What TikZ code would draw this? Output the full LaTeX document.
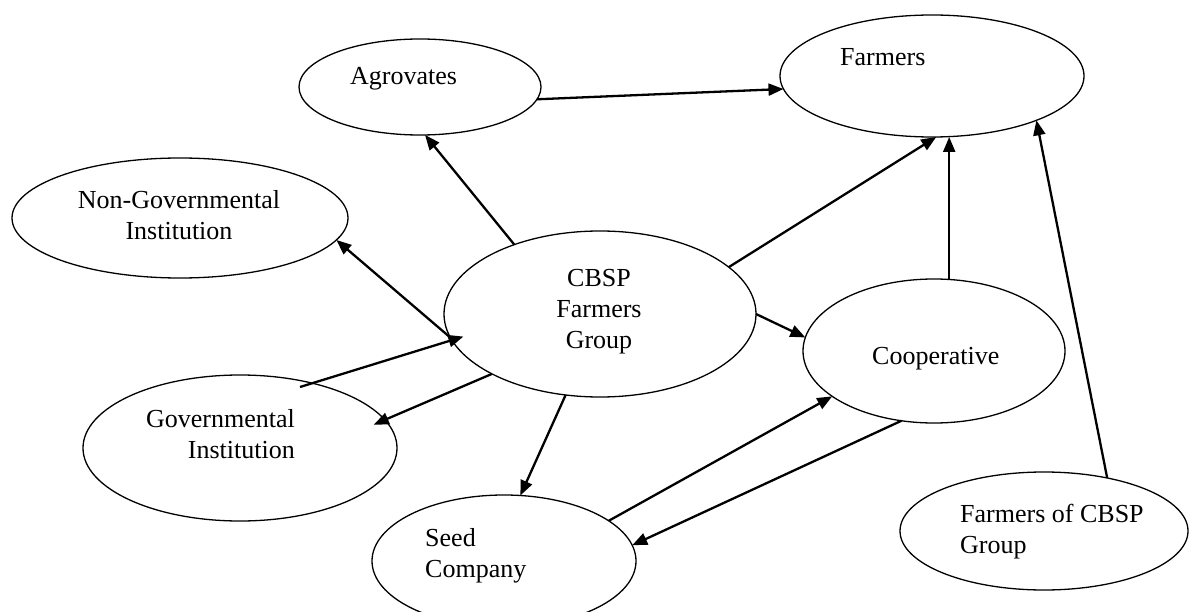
\documentclass[tikz,border=0pt]{standalone}
\usepackage{fontspec}
\setmainfont{Liberation Serif}
\usetikzlibrary{shapes.geometric,arrows.meta}
\begin{document}
\begin{tikzpicture}[x=1pt,y=-1pt,
  ell/.style={draw, ellipse, line width=1.3pt, inner sep=0pt, outer sep=0pt},
  lbl/.style={inner sep=0pt, font=\fontsize{26}{31}\selectfont},
  conn/.style={line width=2.3pt, -{Triangle[length=15pt,width=12pt]}}]
\useasboundingbox (0,0) rectangle (1204,612);
% ellipses
\node[ell, minimum width=242pt, minimum height=96pt]  (agro) at (420,87) {};
\node[ell, minimum width=304pt, minimum height=122pt] (farm) at (932,76) {};
\node[ell, minimum width=336pt, minimum height=120pt] (ngo)  at (180,218) {};
\node[ell, minimum width=312pt, minimum height=166pt] (cbsp) at (600,314) {};
\node[ell, minimum width=262pt, minimum height=144pt] (coop) at (934,351) {};
\node[ell, minimum width=314pt, minimum height=146pt] (gov)  at (240,448) {};
\node[ell, minimum width=264pt, minimum height=132pt] (seed) at (504,561) {};
\node[ell, minimum width=288pt, minimum height=118pt] (focb) at (1044,531) {};
% labels (multi-line nodes are anchored at the baseline of their last line)
\node[lbl, anchor=base west] (tagro) at (350,85) {Agrovates};
\node[lbl, anchor=base west] (tfarm) at (840,66) {Farmers};
\node[lbl, anchor=base, align=center] (tngo) at (179,240) {Non-Governmental\\Institution};
\node[lbl, anchor=base, align=center] (tcbsp) at (599,348) {CBSP\\Farmers\\Group};
\node[lbl, anchor=base west] (tcoop) at (872,364) {Cooperative};
\node[lbl, anchor=base east, align=right] (tgov) at (295,458) {Governmental\\Institution};
\node[lbl, anchor=base west, align=left] (tseed) at (425,577) {Seed\\Company};
\node[lbl, anchor=base west, align=left] (tfocb) at (960,553) {Farmers of CBSP\\Group};
% connectors
\coordinate (govstart) at (300,387);
\draw[conn] (cbsp.141) -- (agro.276);
\draw[conn] (agro.354) -- (farm.185);
\draw[conn] (cbsp.20) -- (farm.274);
\draw[conn] (coop.78) -- (coop.78 |- farm.south);
\draw[conn] (focb.40) -- (farm.337);
\draw[conn] (cbsp.189) -- (ngo.352);
\draw[conn, shorten >=-12pt] (govstart) -- (cbsp.190);
\draw[conn, shorten >=-12pt] (cbsp.209) -- (gov.11);
\draw[conn] (cbsp.0) -- (coop.174);
\draw[conn] (cbsp.247) -- (seed.76);
\draw[conn] (seed.21) -- (coop.204);
\draw[conn] (coop.245) -- (seed.7);
\end{tikzpicture}
\end{document}
